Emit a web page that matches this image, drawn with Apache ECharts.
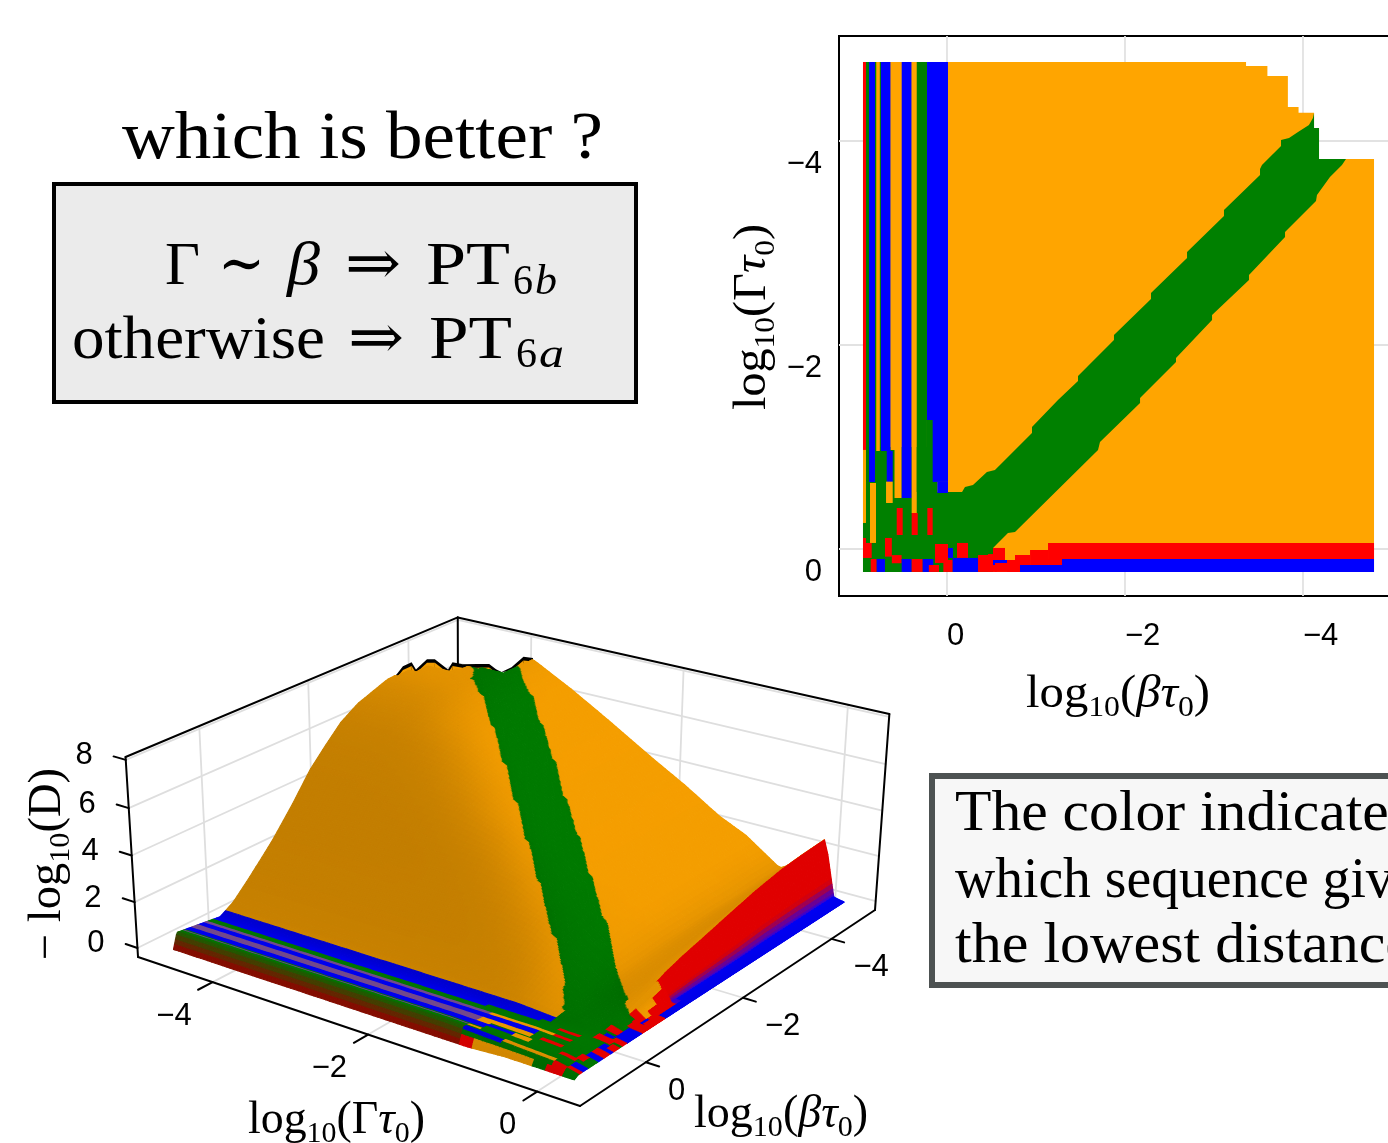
<!DOCTYPE html>
<html><head><meta charset="utf-8">
<style>html,body{margin:0;padding:0;background:#fff;overflow:hidden}#c{width:1388px;height:1143px}</style>
<script src="https://cdn.jsdelivr.net/npm/echarts@6/dist/echarts.min.js"></script>
</head><body><div id="c"></div><script>
const betaTicks=[0,-2,-4], gammaTicks=[0,-2,-4], depthTicks=[0,2,4,6,8];
const palette={o:[255,165,0],g:[0,128,0],b:[0,0,255],r:[255,0,0]};
// regions of the map, as [beta, gamma] outlines
const orangeArea=[[.944,-4.775],[-3.36,-4.775],[-3.36,-4.735],[-3.6,-4.735],[-3.6,-4.637],[-3.83,-4.637],[-3.83,-4.333],[-3.95,-4.333],[-3.95,-4.277],[-4.124,-4.277],[-4.124,-4.127],[-4.18,-4.127],[-4.18,-3.824],[-4.798,-3.824],[-4.798,.225],[.944,.225]];
const greenBand=[[-4.124,-4.275],[-4.112,-4.225],[-4.067,-4.157],[-3.944,-4.088],[-3.843,-4.029],[-3.753,-4.01],[-3.753,-3.951],[-3.539,-3.765],[-3.517,-3.725],[-3.517,-3.667],[-3.112,-3.324],[-3.112,-3.265],[-2.697,-2.912],[-2.697,-2.853],[-2.292,-2.51],[-2.292,-2.451],[-1.876,-2.098],[-1.876,-2.049],[-1.472,-1.696],[-1.472,-1.647],[-1.247,-1.461],[-.955,-1.196],[-.955,-1.137],[-.539,-.775],[-.449,-.755],[-.292,-.627],[-.202,-.608],[-.169,-.559],[.944,-.559],[.944,.225],[-.517,.225],[-.517,-.01],[-.685,-.157],[-.764,-.167],[-1.697,-.971],[-1.719,-1.049],[-2.169,-1.431],[-2.169,-1.48],[-2.573,-1.833],[-2.573,-1.873],[-2.978,-2.245],[-2.978,-2.294],[-3.393,-2.637],[-3.393,-2.686],[-3.798,-3.059],[-3.798,-3.108],[-4.146,-3.412],[-4.157,-3.471],[-4.303,-3.647],[-4.438,-3.765],[-4.483,-3.824],[-4.18,-3.824],[-4.18,-4.127],[-4.124,-4.127]];
// small orange specks at the upper end of the band
const bandSpecks=[[[-4.29,-3.611],[-4.344,-3.56],[-4.4,-3.611],[-4.344,-3.66]],[[-4.43,-3.72],[-4.47,-3.69],[-4.51,-3.72],[-4.47,-3.76]],[[-4.5,-3.8],[-4.54,-3.77],[-4.58,-3.8],[-4.54,-3.824]]];
// [colour, beta from, beta to, gamma from, gamma to]
const stripeCells=[['g',.91,.11,-1,-.559],['g',.225,.11,-1.27,-.559],['r',.944,.91,-4.775,-.971],['g',.91,.876,-4.775,-.657],['b',.876,.809,-4.775,-.657],['g',.809,.742,-4.775,-.96],['o',.795,.755,-4.775,-.96],['b',.742,.633,-4.775,-.96],['b',.677,.61,-.96,-.657],['o',.633,.509,-4.775,-.971],['o',.59,.509,-.971,-.5],['b',.509,.397,-4.775,-.5],['o',.397,.34,-4.775,-.353],['g',.34,.225,-4.775,-.559],['b',.225,-.011,-4.775,-1.265],['b',.161,-.011,-1.265,-.657],['b',.109,-.011,-.657,-.549]];
const cornerCells=[['o',.944,.91,-.971,-.255],['r',.944,.91,-.108,.088],['r',.91,.846,-.059,.088],['o',.865,.798,-.647,-.059],['o',.685,.61,-.66,-.451],['r',.565,.498,-.402,-.137],['r',.397,.329,-.353,-.137],['r',.221,.161,-.402,-.137],['r',.857,.79,.098,.225],['b',.79,.697,.098,.225],['r',.697,.62,-.108,.075],['r',.62,.51,.06,.14],['b',.509,.397,.098,.225],['r',.397,.273,.098,.225],['b',.273,.154,.098,.225],['r',.135,-.011,-.049,.137],['r',.204,.09,.157,.225],['r',.041,-.064,.108,.225],['b',-.011,-.067,-.01,.088],['r',-.112,-.236,-.059,.088],['b',-.064,-.352,.088,.225],['r',-.348,-.483,.059,.225],['r',-.46,-.56,.05,.225],['r',-.517,-.652,-.01,.108],['b',-.517,-.708,.108,.157],['r',-.539,-.82,.137,.225],['r',-.674,-.82,.108,.225],['r',-.764,-.933,.059,.157],['r',-.933,-1.135,.01,.157],['r',-1.135,-1.292,.098,.157],['r',-1.135,-4.798,-.059,.098],['b',-.82,-1.292,.157,.225],['b',-1.292,-4.798,.098,.225]];
// heights -log10(D): one row per gamma, one column per beta
const heightBeta=[.944,.87,.4,.1,-.14,-.5,-.91,-1.3,-1.65,-2,-2.26,-2.6,-3.2,-3.8,-4.3,-4.8];
const heightGamma=[.225,.1,-.04,-.3,-.57,-1,-1.35,-1.8,-2.26,-2.8,-3.3,-3.8,-4.3,-4.775];
const heights=[
[-.1,0,0,0,0,0,0,0,0,0,0,0,0,0,0,0],
[-.1,.1,.1,.1,.05,.05,.05,.05,.05,.05,.05,.05,.1,.1,.1,.1],
[-.1,.2,.2,.15,.15,.3,.6,1,1.25,1.45,1.6,1.8,2.15,2.4,2.5,2.56],
[-.1,.25,.25,.15,.2,.25,.4,.55,.65,.75,.85,.95,1.1,1.2,1.25,1.3],
[-.1,.3,.3,.2,.3,.3,.4,.5,.55,.6,.65,.65,.7,.7,.75,.75],
[-.2,.4,.3,.2,.55,1.1,1.4,1.6,1.7,1.8,1.8,1.8,1.8,1.8,1.8,1.8],
[-.2,.45,.3,.2,.55,1.3,2.1,2.3,2.37,2.37,2.37,2.37,2.37,2.37,2.37,2.37],
[-.2,.45,.3,.2,.55,1.4,2.4,3.1,3.3,3.36,3.36,3.36,3.36,3.36,3.36,3.36],
[-.2,.45,.3,.2,.55,1.4,2.44,3.5,4.1,4.27,4.27,4.27,4.27,4.27,4.27,4.27],
[-.2,.45,.3,.2,.55,1.4,2.44,3.6,4.6,5.1,5.3,5.4,5.4,5.4,5.4,5.4],
[-.2,.45,.3,.2,.55,1.4,2.44,3.6,4.7,5.5,5.95,6.3,6.4,6.4,6.4,6.4],
[-.2,.45,.3,.2,.55,1.4,2.44,3.6,4.74,5.6,6.2,6.7,7.1,7.25,7.3,7.3],
[-.2,.45,.3,.2,.55,1.4,2.44,3.6,4.74,5.6,6.2,6.7,7.2,7.3,7.3,7.3],
[-.2,.45,.3,.2,.55,1.4,2.44,3.6,4.74,5.6,6.2,6.7,7.2,7.3,7.3,7.3]];
// jagged far rim of the surface: [gamma, beta, height]
const rimTeeth=[[-4.775,-3.36,7.2],[-4.756,-3.389,7.34],[-4.72,-3.44,7.6],[-4.66,-3.53,7.74],[-4.632,-3.576,7.4],[-4.555,-3.69,7.81],[-4.5,-3.77,7.78],[-4.41,-3.907,7.26],[-4.38,-3.956,7.56],[-4.31,-4.06,7.43],[-4.21,-4.214,7.37],[-4.126,-4.34,7.32],[-4.078,-4.411,7.06],[-4.04,-4.469,6.9],[-3.97,-4.574,7.08],[-3.887,-4.7,7.49],[-3.82,-4.8,7.4]];

// -------- box camera
const U=g=>.5+(-g-2.27)*.1818, V=b=>.05+(.944-b)*.1585, W=z=>.047+.1174*z;
function uvw(u,v,w){const d=1+.1215*u+.154*v-.04*w;
  return [(580-425.2*u+429.75*v-19*w)/d,(1106-32.7*u-55.9*v-254.6*w)/d];}
const project=(g,b,z)=>uvw(U(g),V(b),W(z));

function heightAt(g,b){
  let i=0;while(i<heightGamma.length-2&&g<heightGamma[i+1])i++;
  let j=0;while(j<heightBeta.length-2&&b<heightBeta[j+1])j++;
  const s=(heightGamma[i]-g)/(heightGamma[i]-heightGamma[i+1]),t=(heightBeta[j]-b)/(heightBeta[j]-heightBeta[j+1]);
  return (heights[i][j]*(1-t)+heights[i][j+1]*t)*(1-s)+(heights[i+1][j]*(1-t)+heights[i+1][j+1]*t)*s;
}
function inside(poly,b,g){let c=false;for(let i=0,j=poly.length-1;i<poly.length;j=i++){
  const a=poly[i],e=poly[j];if((a[1]>g)!==(e[1]>g)&&b<(e[0]-a[0])*(g-a[1])/(e[1]-a[1])+a[0])c=!c;}return c;}
const allCells=stripeCells.concat(cornerCells);
function classify(b,g){
  if(!inside(orangeArea,b,g))return null;
  let col='o';if(inside(greenBand,b,g))col='g';
  for(const r of allCells){if(b<=r[1]&&b>=r[2]&&g>=r[3]&&g<=r[4])col=r[0];}
  return col;
}
const mix=(a,b,t)=>[a[0]+(b[0]-a[0])*t,a[1]+(b[1]-a[1])*t,a[2]+(b[2]-a[2])*t];
function surfaceColor(c,b,g,sh){
  let p=palette[c];
  if(g<-1.1&&b>.78){ // dark front lip of the stripes
    const t=Math.min(1,Math.max(0,(.945-b)/.085));
    p=b>.809?mix([150,0,0],[20,100,0],t):[0,120,0];
    sh=1;
  } else if(g<-1.1&&b>.3&&c==='o'){ p=[125,80,150]; }
  else if(c==='r'&&b<-1.2&&g>-.06){
    p=mix([224,0,0],[40,0,235],Math.min(1,Math.max(0,(g-.06)/.038))*.9); sh=1;
  } else if(c==='r') sh=Math.min(sh,.9);
  return `rgb(${p[0]*sh|0},${p[1]*sh|0},${p[2]*sh|0})`;
}
const betaNodes=[],gammaNodes=[];
for(let b=.944;b>-.1;b-=.021)betaNodes.push(b);
for(let b=-.1;b>=-4.8;b-=.06)betaNodes.push(b);
betaNodes.push(-4.798);
for(let g=.225;g>.0;g-=.012)gammaNodes.push(g);
for(let g=-.003;g>-4.775;g-=.05)gammaNodes.push(g);
gammaNodes.push(-4.775);
// shade field from the surface slope, softened
let shadeField=[];
for(let i=0;i<gammaNodes.length-1;i++){const row=[];for(let j=0;j<betaNodes.length-1;j++){
  const g0=gammaNodes[i],g1=gammaNodes[i+1],b0=betaNodes[j],b1=betaNodes[j+1];
  const z00=heightAt(g0,b0),z01=heightAt(g0,b1),z10=heightAt(g1,b0),z11=heightAt(g1,b1);
  const zu=(W((z10+z11)/2)-W((z00+z01)/2))/(U(g1)-U(g0)), zv=(W((z01+z11)/2)-W((z00+z10)/2))/(V(b1)-V(b0));
  const n=Math.sqrt(zu*zu+zv*zv+1);
  row.push(Math.min(1,Math.max(.6,.9+.076*(zu/n)-.146*(zv/n))));}shadeField.push(row);}
function soften(f,r){const R=f.length,C=f[0].length,o=[];for(let i=0;i<R;i++){const row=[];for(let j=0;j<C;j++){
  let s=0,n=0;for(let a=Math.max(0,i-r);a<=Math.min(R-1,i+r);a++)for(let b=Math.max(0,j-r);b<=Math.min(C-1,j+r);b++){s+=f[a][b];n++;}
  row.push(s/n);}o.push(row);}return o;}
shadeField=soften(soften(shadeField,4),4);
const surfaceCells=[];
for(let i=gammaNodes.length-2;i>=0;i--)for(let j=betaNodes.length-2;j>=0;j--){
  const g0=gammaNodes[i],g1=gammaNodes[i+1],b0=betaNodes[j],b1=betaNodes[j+1];
  const sh=shadeField[i][j];
  const cs=[classify(b0,g0),classify(b1,g0),classify(b0,g1),classify(b1,g1),classify((b0+b1)/2,(g0+g1)/2)];
  const refine=b0<-.05&&cs.some(x=>x!==cs[0]);
  const n=refine?4:1;
  for(let a=n-1;a>=0;a--)for(let e=n-1;e>=0;e--){
    const ga=g0+(g1-g0)*a/n,gb=g0+(g1-g0)*(a+1)/n,ba=b0+(b1-b0)*e/n,bb=b0+(b1-b0)*(e+1)/n;
    const c=classify((ba+bb)/2,(ga+gb)/2);if(!c)continue;
    surfaceCells.push({pts:[project(ga,ba,heightAt(ga,ba)),project(ga,bb,heightAt(ga,bb)),project(gb,bb,heightAt(gb,bb)),project(gb,ba,heightAt(gb,ba))],
      color:surfaceColor(c,(ba+bb)/2,(ga+gb)/2,sh)});
  }
}
// wire frame of the box
const backWire=[],frontWire=[];
const grey='#dedede';
const seg=(arr,a,b,c,w)=>arr.push({a,b,c,w});
const k='#000';
for(const t of betaTicks){const v=V(t);seg(backWire,uvw(1,v,0),uvw(1,v,1),grey,1.8);seg(backWire,uvw(0,v,0),uvw(1,v,0),grey,1.8);}
for(const t of gammaTicks){const u=U(t);seg(backWire,uvw(u,1,0),uvw(u,1,1),grey,1.8);seg(backWire,uvw(u,0,0),uvw(u,1,0),grey,1.8);}
for(const t of depthTicks){const w=W(t);seg(backWire,uvw(1,0,w),uvw(1,1,w),grey,1.8);seg(backWire,uvw(0,1,w),uvw(1,1,w),grey,1.8);}
seg(backWire,uvw(1,1,0),uvw(1,1,1),k,2);
seg(backWire,uvw(1,0,0),uvw(1,0,1),k,2);seg(backWire,uvw(1,0,1),uvw(1,1,1),k,2);seg(backWire,uvw(1,1,1),uvw(0,1,1),k,2);seg(backWire,uvw(0,1,1),uvw(0,1,0),k,2);
seg(frontWire,uvw(1,0,0),uvw(0,0,0),k,2);seg(frontWire,uvw(0,0,0),uvw(0,1,0),k,2);
for(const t of betaTicks)seg(frontWire,uvw(0,V(t),0),uvw(-.027,V(t),0),k,2);
for(const t of gammaTicks)seg(frontWire,uvw(U(t),0,0),uvw(U(t),-.04,0),k,2);
for(const t of depthTicks)seg(frontWire,uvw(1,0,W(t)),uvw(1.03,0,W(t)),k,2);
const minus=v=>String(v).replace('-','\u2212');
const boxLabels=[];
for(const t of gammaTicks){const p=uvw(U(t),0,0);boxLabels.push({p,dx:-21,dy:34,al:'right',s:minus(t)});}
for(const t of betaTicks){const p=uvw(0,V(t),0);boxLabels.push({p,dx:22,dy:29,al:'left',s:minus(t)});}
for(const t of depthTicks){const p=uvw(1,0,W(t));boxLabels.push({p,dx:-33,dy:-4,al:'right',s:minus(t)});}

// -------- text helpers
const SERIF='"Liberation Serif","DejaVu Serif",serif';
const ctx=document.createElement('canvas').getContext('2d');
const fontOf=(size,it)=>(it?'italic ':'')+size+'px '+SERIF;
function width(t,size,it){ctx.font=fontOf(size,it);return ctx.measureText(t).width;}
const MID=.26;
function fit(t,x0,x1,base,size,it,color){
  const sc=(x1-x0)/width(t,size,it);
  return {type:'text',x:x0,y:base-MID*size,scaleX:sc,z:20,style:{text:t,font:fontOf(size,it),fill:color||'#000',verticalAlign:'middle',align:'left'}};
}
function mathLabel(pieces,x,y,total,rotation){
  let nat=0;pieces.forEach(p=>nat+=width(p[0],p[1],p[3]));
  let cx=0;const children=pieces.map(p=>{const el={type:'text',x:cx,y:(p[2]||0)-MID*p[1],style:{text:p[0],font:fontOf(p[1],p[3]),fill:'#000',verticalAlign:'middle',align:'left'}};cx+=width(p[0],p[1],p[3]);return el;});
  return {type:'group',x,y,rotation:rotation||0,scaleX:total/nat,z:20,children};
}
const S=46,s=30,d=9;
const logBeta=[['log',S],['10',s,d],['(',S],['\u03b2',S,0,1],['\u03c4',S,0,1],['0',s,d],[')',S]];
const logGamma=[['log',S],['10',s,d],['(\u0393',S],['\u03c4',S,0,1],['0',s,d],[')',S]];
const logD=[['\u2212 ',S],['log',S],['10',s,d],['(D)',S]];
const graphics=[
 fit('which is better ?',122,603,158,68),
 {type:'rect',shape:{x:54,y:184,width:582,height:218},z:15,style:{fill:'#ebebeb',stroke:'#000',lineWidth:4}},
 fit('\u0393',165,200,284,62),fit('\u223c',218,265,284,62),fit('\u03b2',287,320,284,62,true),fit('\u21d2',345,401,284,62),fit('PT',426,510,284,62),fit('6',513,533,294,42),fit('b',535,557,294,42,true),
 fit('otherwise',72,325,358,62),fit('\u21d2',348,404,358,62),fit('PT',429,512,358,62),fit('6',516,537,367,42),fit('a',539,564,367,42,true),
 {type:'rect',shape:{x:932,y:776,width:500,height:209},z:15,style:{fill:'#f7f7f7',stroke:'#4d5252',lineWidth:6}},
 fit('The color indicates',955,1412,830,58),fit('which sequence gives',955,1440,897,58),fit('the lowest distance',955,1412,962,58),
 mathLabel(logBeta,1026,707,184),
 mathLabel(logGamma,765,410,186,Math.PI/2),
 mathLabel(logBeta,694,1127,174),
 mathLabel(logGamma,248,1133,177),
 mathLabel(logD,60,960,192,Math.PI/2)
];

// -------- chart
const HEL='"Liberation Sans",Arial,sans-serif';
function areaItem(poly,c){return {poly,c};}
const mapAreas=[areaItem(orangeArea,'o'),areaItem(greenBand,'g')];
bandSpecks.forEach(q=>mapAreas.push(areaItem(q,'o')));
allCells.forEach(r=>mapAreas.push(areaItem([[r[1],r[3]],[r[2],r[3]],[r[2],r[4]],[r[1],r[4]]],r[0])));
const css=c=>`rgb(${palette[c].join(',')})`;
const chart=echarts.init(document.getElementById('c'),null,{renderer:'canvas',width:1388,height:1143});
const segSeries=(name,arr,z)=>({name,type:'custom',xAxisIndex:1,yAxisIndex:1,z,silent:true,clip:false,animation:false,
  data:arr.map((a,i)=>[i]),renderItem:(p,api)=>{const e=arr[p.dataIndex],A=api.coord(e.a),B=api.coord(e.b);
    return {type:'line',shape:{x1:A[0],y1:A[1],x2:B[0],y2:B[1]},style:{stroke:e.c,lineWidth:e.w,lineCap:'round'}};}});
chart.setOption({
 animation:false,backgroundColor:'#fff',
 grid:[{left:839,top:36,width:600,height:560,show:true,borderColor:'#000',borderWidth:2,backgroundColor:'#fff',outerBoundsMode:'none'},
       {left:0,top:0,width:1388,height:1143,show:false,outerBoundsMode:'none'}],
 xAxis:[{type:'value',gridIndex:0,inverse:true,min:-5.528,max:1.2135,
   axisLine:{show:false},splitLine:{show:true,lineStyle:{color:'#e2e2e2',width:1.8}},
   axisTick:{show:true,length:8,inside:false,customValues:betaTicks,lineStyle:{color:'#000',width:2}},
   axisLabel:{customValues:betaTicks,formatter:minus,color:'#000',fontFamily:HEL,fontSize:31,align:'left',margin:25}},
  {type:'value',gridIndex:1,min:0,max:1388,show:false}],
 yAxis:[{type:'value',gridIndex:0,inverse:true,min:-5.029,max:.461,
   axisLine:{show:false},splitLine:{show:true,lineStyle:{color:'#e2e2e2',width:1.8}},
   axisTick:{show:true,length:8,inside:false,customValues:gammaTicks,lineStyle:{color:'#000',width:2}},
   axisLabel:{customValues:gammaTicks,formatter:minus,color:'#000',fontFamily:HEL,fontSize:31,align:'right',verticalAlign:'top',margin:17,padding:[8,0,0,0]}},
  {type:'value',gridIndex:1,inverse:true,min:0,max:1143,show:false}],
 graphic:graphics,
 series:[
  {name:'map',type:'custom',xAxisIndex:0,yAxisIndex:0,z:5,silent:true,clip:false,animation:false,
   data:mapAreas.map((a,i)=>[i]),renderItem:(p,api)=>{const e=mapAreas[p.dataIndex];
     return {type:'polygon',shape:{points:e.poly.map(q=>api.coord(q))},style:{fill:css(e.c)}};}},
  segSeries('box back',backWire,3),
  {name:'rim',type:'custom',xAxisIndex:1,yAxisIndex:1,z:4,silent:true,clip:false,animation:false,
   data:[[0]],renderItem:(p,api)=>{const top=rimTeeth.map(r=>api.coord(project(r[0],r[1],r[2])));
     const low=rimTeeth.slice().reverse().map(r=>api.coord(project(r[0],r[1],6.9)));
     const kids=[{type:'polygon',shape:{points:top.concat(low)},style:{fill:'#000'}}];
     for(let i=0;i<rimTeeth.length-1;i++){const a=rimTeeth[i],b=rimTeeth[i+1];
       const c=classify((a[1]+b[1])/2+.06,(a[0]+b[0])/2+.06)||'o';
       const sh=.95,pc=palette[c];
       kids.push({type:'polygon',shape:{points:[api.coord(project(a[0],a[1],a[2]-.16)),api.coord(project(b[0],b[1],b[2]-.16)),api.coord(project(b[0],b[1],6.8)),api.coord(project(a[0],a[1],6.8))]},
         style:{fill:`rgb(${pc[0]*sh|0},${pc[1]*sh|0},${pc[2]*sh|0})`}});}
     return {type:'group',children:kids};}},
  {name:'surface',type:'custom',xAxisIndex:1,yAxisIndex:1,z:6,silent:true,clip:false,animation:false,progressive:0,
   data:surfaceCells.map((a,i)=>[i]),renderItem:(p,api)=>{const e=surfaceCells[p.dataIndex];
     return {type:'polygon',shape:{points:e.pts.map(q=>api.coord(q))},style:{fill:e.color,stroke:e.color,lineWidth:1.1,lineJoin:'round'}};}},
  segSeries('box front',frontWire,7),
  {name:'box labels',type:'custom',xAxisIndex:1,yAxisIndex:1,z:8,silent:true,clip:false,animation:false,
   data:boxLabels.map((a,i)=>[i]),renderItem:(p,api)=>{const e=boxLabels[p.dataIndex],A=api.coord(e.p);
     return {type:'text',x:A[0]+e.dx,y:A[1]+e.dy,style:{text:e.s,fill:'#000',font:'31px '+HEL,align:e.al,verticalAlign:'middle'}};}}
 ]
});
</script></body></html>
